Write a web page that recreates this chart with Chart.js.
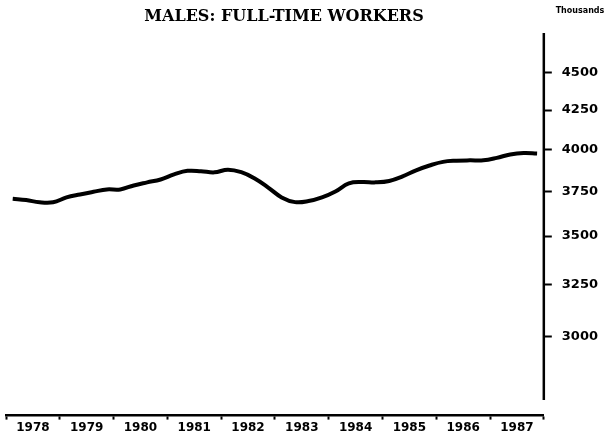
<!DOCTYPE html>
<html>
<head>
<meta charset="utf-8">
<script src="https://cdn.jsdelivr.net/npm/chart.js@4/dist/chart.umd.min.js"></script>
<style>
    html, body { margin: 0; padding: 0; background: #fff; }
    #wrap { width: 607px; height: 440px; position: relative; }
</style>
</head>
<body>
<div id="wrap"><canvas id="grafica"></canvas></div>
<script>
// Años del eje X (cada año tiene 4 trimestres)
const years = [1978, 1979, 1980, 1981, 1982, 1983, 1984, 1985, 1986, 1987];

// Trabajadores varones a tiempo completo, miles, datos trimestrales
const workers = [
    3707, 3700, 3687, 3687,
    3715, 3732, 3747, 3761,
    3761, 3784, 3802, 3819,
    3849, 3870, 3868, 3861,
    3877, 3862, 3825, 3772,
    3715, 3688, 3694, 3715,
    3749, 3796, 3804, 3802,
    3810, 3837, 3873, 3902,
    3924, 3931, 3933, 3933,
    3948, 3969, 3978, 3975
];

// Marcas del eje Y (escala logaritmica)
const yTicks = [3000, 3250, 3500, 3750, 4000, 4250, 4500];

const title = 'MALES: FULL-TIME WORKERS';
const unitLabel = 'Thousands';

(function() {
    const ctx = document.getElementById('grafica');

    const puntos = workers.map((v, i) => ({ x: years[0] + (i + 0.5) / 4, y: v }));

    // Titulo, unidad y linea del eje Y (que termina antes del eje X)
    const textos = {
        id: 'textos',
        afterDraw(chart) {
            const c = chart.ctx;
            const y = chart.scales.y;
            c.save();
            c.fillStyle = '#000';
            c.textBaseline = 'middle';
            c.textAlign = 'center';
            c.font = 'bold 16px "DejaVu Serif"';
            c.fillText(title, 284, 17);
            c.font = 'bold 8px "DejaVu Sans"';
            c.fillText(unitLabel, 580, 11);

            c.strokeStyle = '#000';
            c.lineWidth = 2.5;
            c.beginPath();
            c.moveTo(y.left, y.top);
            c.lineTo(y.left, y.getPixelForValue(2720));
            c.stroke();
            c.restore();
        }
    };

    new Chart(ctx, {
        type: 'line',
        data: {
            datasets: [{
                data: puntos,
                borderColor: '#000',
                borderWidth: 4,
                pointRadius: 0,
                tension: 0.4,
                fill: false
            }]
        },
        options: {
            responsive: true,
            maintainAspectRatio: false,
            animation: false,
            layout: {
                padding: { top: 33, left: 6, right: -1, bottom: 4 }
            },
            scales: {
                x: {
                    type: 'linear',
                    min: years[0],
                    max: years[years.length - 1] + 1,
                    afterBuildTicks: scale => {
                        const t = [];
                        years.forEach(y => { t.push({ value: y }); t.push({ value: y + 0.5 }); });
                        t.push({ value: years[years.length - 1] + 1 });
                        scale.ticks = t;
                    },
                    grid: {
                        display: true,
                        drawOnChartArea: false,
                        drawTicks: true,
                        tickLength: 4,
                        tickWidth: 2,
                        tickColor: c => (c.tick && c.tick.value % 1 === 0) ? '#000' : 'rgba(0,0,0,0)'
                    },
                    border: { display: true, color: '#000', width: 2.5 },
                    ticks: {
                        autoSkip: false,
                        maxRotation: 0,
                        padding: 1,
                        color: '#000',
                        font: { family: 'DejaVu Sans', size: 12, weight: 'bold' },
                        callback: v => (v % 1 === 0.5) ? String(Math.floor(v)) : ''
                    }
                },
                y: {
                    type: 'logarithmic',
                    position: 'right',
                    min: 2655,
                    max: 4785,
                    afterBuildTicks: scale => {
                        scale.ticks = yTicks.map(v => ({ value: v }));
                    },
                    grid: {
                        display: true,
                        drawOnChartArea: false,
                        drawTicks: true,
                        tickLength: 8,
                        tickWidth: 2,
                        tickColor: '#000'
                    },
                    border: { display: false },
                    ticks: {
                        padding: 10,
                        color: '#000',
                        font: { family: 'DejaVu Sans', size: 13, weight: 'bold' },
                        callback: v => String(v)
                    }
                }
            },
            plugins: {
                legend: { display: false },
                tooltip: { enabled: false }
            }
        },
        plugins: [textos]
    });
})();
</script>
</body>
</html>
